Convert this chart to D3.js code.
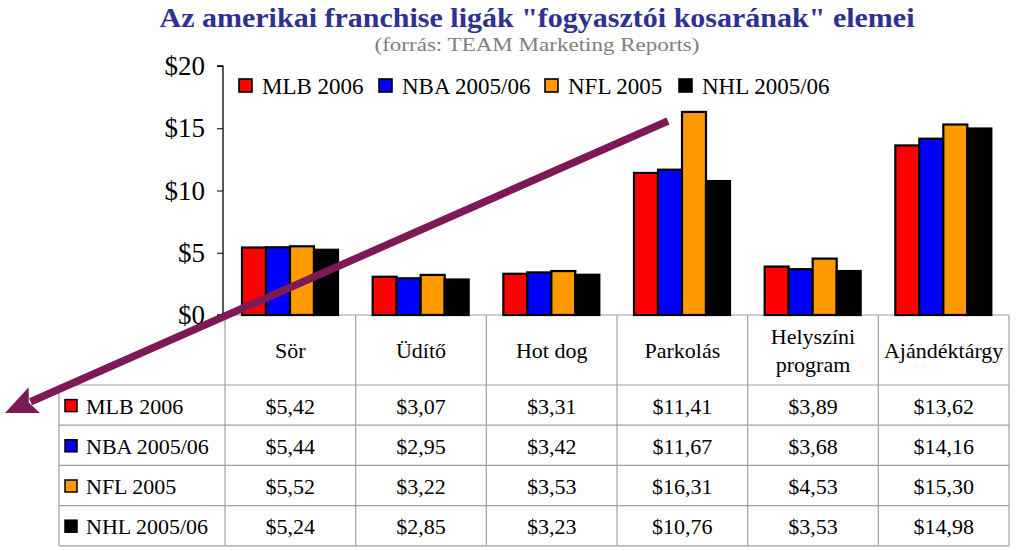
<!DOCTYPE html>
<html><head><meta charset="utf-8">
<script src="https://cdn.jsdelivr.net/npm/d3@7/dist/d3.min.js"></script>
<style>body{margin:0;background:#fff}svg{display:block}</style>
</head><body>
<script>
const categories = ["Sör", "Üdítő", "Hot dog", "Parkolás", "Helyszíni program", "Ajándéktárgy"];
const categoryLines = [["Sör"], ["Üdítő"], ["Hot dog"], ["Parkolás"], ["Helyszíni", "program"], ["Ajándéktárgy"]];
const seriesNames = ["MLB 2006", "NBA 2005/06", "NFL 2005", "NHL 2005/06"];
const seriesColors = ["#ff0000", "#0000ff", "#ff9900", "#000000"];
const mlb = [5.42, 3.07, 3.31, 11.41, 3.89, 13.62];
const nba = [5.44, 2.95, 3.42, 11.67, 3.68, 14.16];
const nfl = [5.52, 3.22, 3.53, 16.31, 4.53, 15.30];
const nhl = [5.24, 2.85, 3.23, 10.76, 3.53, 14.98];
const valueLabels = [
  ["$5,42", "$3,07", "$3,31", "$11,41", "$3,89", "$13,62"],
  ["$5,44", "$2,95", "$3,42", "$11,67", "$3,68", "$14,16"],
  ["$5,52", "$3,22", "$3,53", "$16,31", "$4,53", "$15,30"],
  ["$5,24", "$2,85", "$3,23", "$10,76", "$3,53", "$14,98"]
];
const yTicks = [0, 5, 10, 15, 20];
const yTickLabels = ["$0", "$5", "$10", "$15", "$20"];
const title = "Az amerikai franchise ligák \"fogyasztói kosarának\" elemei";
const subtitle = "(forrás: TEAM Marketing Reports)";
const seriesValues = [mlb, nba, nfl, nhl];

const W = 1023, H = 551;
const serif = "'Liberation Serif','Times New Roman',serif";
const svg = d3.select("body").append("svg").attr("width", W).attr("height", H);

// Title
svg.append("text").attr("x", 537).attr("y", 27).attr("text-anchor", "middle")
  .attr("font-family", serif).attr("font-weight", "bold").attr("font-size", 27)
  .attr("fill", "#2e3192").attr("textLength", 755).attr("lengthAdjust", "spacingAndGlyphs")
  .text(title);
svg.append("text").attr("x", 537).attr("y", 51).attr("text-anchor", "middle")
  .attr("font-family", serif).attr("font-size", 19).attr("fill", "#808080")
  .attr("textLength", 325).attr("lengthAdjust", "spacingAndGlyphs")
  .text(subtitle);

// Scales
const x0 = d3.scaleBand().domain(categories).range([225, 1009]).padding(0);
const x1 = d3.scaleBand().domain(seriesNames).range([17, 113]).padding(0);
const y = d3.scaleLinear().domain([0, 20]).range([315, 66]);

// Y axis
const yAxis = d3.axisLeft(y).tickValues(yTicks).tickSize(6).tickPadding(12)
  .tickFormat((d, i) => yTickLabels[i]);
const ga = svg.append("g").attr("transform", "translate(223,0)").call(yAxis);
ga.select(".domain").attr("stroke", "#000").attr("stroke-width", 1.3).attr("d", "M-6,66H0V315H-6");
ga.selectAll(".tick line").attr("stroke", "#000");
ga.selectAll(".tick text").attr("font-family", serif).attr("font-size", 27).attr("fill", "#000");

// Table grid
const gridColor = "#a0a0a0";
const rowTop = 385, rowH = 40.2, tableLeft = 59, tableRight = 1009;
const grid = svg.append("g").attr("stroke", gridColor).attr("stroke-width", 1.2);
grid.append("line").attr("x1", 225).attr("x2", tableRight).attr("y1", 315).attr("y2", 315);
for (let r = 0; r <= seriesNames.length; r++) {
  const yy = rowTop + r * rowH;
  grid.append("line").attr("x1", tableLeft).attr("x2", tableRight).attr("y1", yy).attr("y2", yy);
}
const tableBottom = rowTop + seriesNames.length * rowH;
grid.append("line").attr("x1", tableLeft).attr("x2", tableLeft).attr("y1", rowTop).attr("y2", tableBottom);
categories.forEach(c => {
  grid.append("line").attr("x1", x0(c)).attr("x2", x0(c)).attr("y1", 315).attr("y2", tableBottom);
});
grid.append("line").attr("x1", tableRight).attr("x2", tableRight).attr("y1", 315).attr("y2", tableBottom);

// Bars
const bars = svg.append("g");
categories.forEach((c, ci) => {
  seriesNames.forEach((s, si) => {
    const v = seriesValues[si][ci];
    bars.append("rect")
      .attr("x", x0(c) + x1(s)).attr("width", x1.bandwidth())
      .attr("y", y(v)).attr("height", y(0) - y(v))
      .attr("fill", seriesColors[si]).attr("stroke", "#000").attr("stroke-width", 2.2);
  });
});

// Top legend
const legendX = [239, 379, 545, 679];
const leg = svg.append("g");
seriesNames.forEach((s, i) => {
  leg.append("rect").attr("x", legendX[i]).attr("y", 79).attr("width", 13).attr("height", 13)
    .attr("fill", seriesColors[i]).attr("stroke", "#000").attr("stroke-width", 1.6);
  leg.append("text").attr("x", legendX[i] + 23).attr("y", 86).attr("dy", "0.35em")
    .attr("font-family", serif).attr("font-size", 23).attr("fill", "#000").text(s);
});

// Table header
const tbl = svg.append("g").attr("font-family", serif).attr("font-size", 22).attr("fill", "#000");
categories.forEach((c, ci) => {
  const lines = categoryLines[ci];
  const cx = x0(c) + x0.bandwidth() / 2;
  lines.forEach((ln, li) => {
    tbl.append("text").attr("x", cx).attr("y", 350 + (li - (lines.length - 1) / 2) * 28)
      .attr("dy", "0.35em").attr("text-anchor", "middle").text(ln);
  });
});
// Table rows
seriesNames.forEach((s, si) => {
  const cy = rowTop + si * rowH + rowH / 2 + 1;
  tbl.append("rect").attr("x", 65).attr("y", cy - 6.5).attr("width", 12).attr("height", 12)
    .attr("fill", seriesColors[si]).attr("stroke", "#000").attr("stroke-width", 1.5);
  tbl.append("text").attr("x", 86).attr("y", cy).attr("dy", "0.35em").text(s);
  categories.forEach((c, ci) => {
    tbl.append("text").attr("x", x0(c) + x0.bandwidth() / 2).attr("y", cy).attr("dy", "0.35em")
      .attr("text-anchor", "middle").text(valueLabels[si][ci]);
  });
});

// Arrow annotation
const arrowColor = "#7d1a56";
const start = [668, 121], tip = [5, 413];
const dx = tip[0] - start[0], dy = tip[1] - start[1];
const len = Math.hypot(dx, dy), ux = dx / len, uy = dy / len;
const headLen = 32, headHalf = 14;
const base = [tip[0] - ux * headLen, tip[1] - uy * headLen];
svg.append("line").attr("x1", start[0]).attr("y1", start[1])
  .attr("x2", base[0] + ux * 4).attr("y2", base[1] + uy * 4)
  .attr("stroke", arrowColor).attr("stroke-width", 7.5);
svg.append("path").attr("fill", arrowColor).attr("d",
  `M${tip[0]},${tip[1]}L${base[0] - uy * headHalf},${base[1] + ux * headHalf}` +
  `L${base[0] + ux * 6},${base[1] + uy * 6}L${base[0] + uy * headHalf},${base[1] - ux * headHalf}Z`);
</script>
</body></html>
